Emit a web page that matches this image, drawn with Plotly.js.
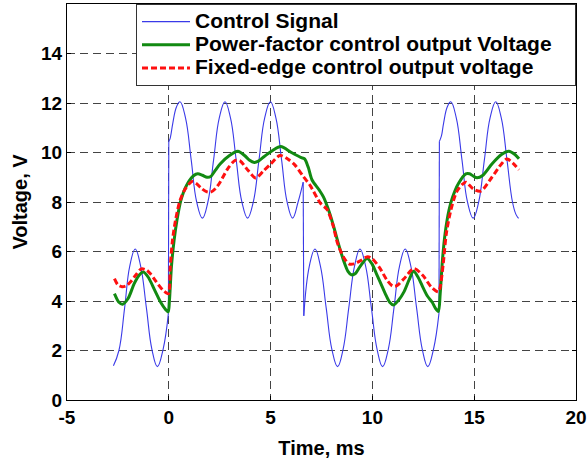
<!DOCTYPE html>
<html><head><meta charset="utf-8">
<script src="https://cdn.plot.ly/plotly-3.0.1.min.js"></script>
<style>html,body{margin:0;padding:0;background:#fff}</style>
</head><body>
<div id="chart" style="width:587px;height:459px"></div>
<script>
// Control signal (ms, V); null separates the smooth stretches between switching edges
const ctrlT = [-2.72,-2.45,-2.17,-1.92,-1.65,-1.38,-1.1,-0.83,-0.56,-0.28,-0.02,null,0.0,0.06,0.1,0.2,0.38,0.55,0.82,1.1,1.37,1.65,1.92,2.2,2.48,2.76,3.03,3.31,3.59,3.87,4.15,4.43,4.71,4.99,5.26,5.54,5.81,6.08,6.35,6.6,null,6.63,6.9,7.18,7.45,7.73,8.01,8.29,8.56,8.84,9.12,9.39,9.67,9.95,10.23,10.5,10.78,11.06,11.33,11.61,11.89,12.17,12.45,12.72,13.0,13.27,null,13.29,13.34,13.4,13.5,13.68,13.85,14.12,14.4,14.67,14.95,15.22,15.5,15.78,16.06,16.33,16.61,16.88,17.05,17.18];
const ctrlV = [1.38,2.0,3.72,5.4,6.1,5.4,3.72,2.05,1.35,2.05,3.5,null,10.45,10.55,10.7,11.2,11.85,12.05,11.4,9.7,8.0,7.35,8.0,9.7,11.4,12.05,11.4,9.7,8.0,7.35,8.0,9.7,11.4,12.05,11.4,9.7,8.0,7.35,8.0,8.8,null,3.4,5.4,6.1,5.4,3.72,2.05,1.35,2.05,3.72,5.4,6.1,5.4,3.72,2.05,1.35,2.05,3.72,5.4,6.1,5.4,3.72,2.05,1.35,2.05,3.5,null,10.45,10.55,10.7,11.2,11.85,12.05,11.4,9.7,8.0,7.35,8.0,9.7,11.4,12.05,11.4,9.7,8.0,7.5,7.34];
// Control signal switching edges
const edgeT = [-0.02,0.0,null,6.6,6.63,null,13.27,13.29];
const edgeV = [3.5,10.45,null,8.8,3.4,null,3.5,10.45];
// Power-factor control output voltage
const pfT = [-2.67,-2.45,-2.27,-2.0,-1.7,-1.45,-1.25,-1.0,-0.7,-0.4,-0.15,-0.03,0.03,0.13,0.26,0.4,0.59,0.87,1.23,1.42,1.65,1.88,2.06,2.3,2.52,2.98,3.39,3.72,3.95,4.2,4.4,4.64,5.1,5.5,6.02,6.48,6.67,6.85,7.03,7.4,7.6,7.88,8.1,8.3,8.6,8.8,8.97,9.15,9.4,9.74,9.98,10.2,10.41,10.63,10.85,11.04,11.3,11.55,11.8,12.02,12.25,12.47,12.7,12.93,13.1,13.24,13.33,13.44,13.57,13.76,13.94,14.22,14.59,14.77,14.95,15.14,15.41,15.87,16.34,16.7,17.0,17.2];
const pfV = [4.3,3.95,3.87,4.1,4.7,5.05,5.17,4.95,4.45,3.95,3.65,3.56,4.0,5.4,6.45,7.26,8.06,8.67,9.07,9.14,9.08,9.0,9.03,9.3,9.54,9.88,10.05,9.88,9.7,9.6,9.65,9.81,10.08,10.24,10.0,9.8,9.74,9.4,8.9,8.47,8.2,7.6,7.0,6.4,5.6,5.2,5.06,5.1,5.4,5.72,5.5,5.1,4.71,4.3,3.95,3.84,4.05,4.37,4.85,5.2,4.95,4.57,4.2,3.96,3.7,3.58,4.3,5.65,6.72,7.66,8.2,8.74,9.14,9.14,9.05,8.98,9.07,9.54,9.92,10.05,9.92,9.75];
// Fixed-edge control output voltage
const feT = [-2.67,-2.5,-2.3,-2.08,-1.85,-1.62,-1.35,-1.1,-0.9,-0.61,-0.3,-0.1,-0.01,0.07,0.18,0.33,0.55,0.81,1.14,1.35,1.6,1.85,2.06,2.3,2.52,2.89,3.26,3.5,3.9,4.27,4.64,5.01,5.46,5.84,6.21,6.57,6.94,7.45,7.77,8.05,8.3,8.6,8.85,9.1,9.4,9.76,10.0,10.35,10.72,11.0,11.2,11.55,12.04,12.47,12.89,13.24,13.33,13.48,13.63,13.85,14.13,14.4,14.59,14.95,15.32,15.87,16.34,16.61,16.9,17.2];
const feV = [4.9,4.65,4.58,4.62,4.8,5.05,5.3,5.25,5.1,4.77,4.45,4.32,4.3,5.38,6.45,7.26,8.06,8.53,8.83,8.75,8.55,8.42,8.4,8.55,8.8,9.34,9.68,9.66,9.27,8.97,9.25,9.54,9.88,9.74,9.48,9.07,8.67,7.95,7.7,7.1,6.3,5.75,5.5,5.5,5.62,5.79,5.7,5.35,4.84,4.6,4.62,4.9,5.31,5.04,4.57,4.37,4.57,5.51,6.72,7.66,8.4,8.7,8.8,8.53,8.44,9.0,9.54,9.74,9.57,9.3];
const seriesNames = ['Control Signal', 'Power-factor control output Voltage', 'Fixed-edge control output voltage'];
const xTicks = [-5,0,5,10,15,20];
const xTickText = ['-5','0','5','10','15','20'];
const yTicks = [0,2,4,6,8,10,12,14];

const FONT = 'Liberation Sans, Arial, sans-serif';
const BLUE = '#3a3ae8';
const big = (s, pad) => '<span style="font-size:21px">' + s + (pad || '') + '</span>';
const traces = [
  {x: ctrlT, y: ctrlV, name: big(seriesNames[0]), mode: 'lines', legendgroup: 'c',
   connectgaps: false,
   line: {color: BLUE, width: 1.1, shape: 'spline', smoothing: 1.2}},
  {x: edgeT, y: edgeV, name: seriesNames[0], mode: 'lines', legendgroup: 'c',
   showlegend: false, connectgaps: false,
   line: {color: BLUE, width: 1.1}},
  {x: pfT, y: pfV, name: big(seriesNames[1], '&nbsp;&nbsp;&nbsp;'), mode: 'lines',
   line: {color: '#128a12', width: 3, shape: 'spline', smoothing: 0.8}},
  {x: feT, y: feV, name: big(seriesNames[2]), mode: 'lines',
   line: {color: '#ff1010', width: 3, dash: '6px,3px', shape: 'spline', smoothing: 0.8}}
];
const axBase = {
  showline: true, linecolor: '#000', linewidth: 1, mirror: 'ticks',
  ticks: 'inside', ticklen: 4, tickcolor: '#000',
  showgrid: true, gridcolor: '#444', gridwidth: 1, griddash: '8px,5px',
  zeroline: false,
  tickfont: {family: FONT, size: 19, color: '#000', weight: 'bold'}
};
const layout = {
  width: 587, height: 459,
  margin: {l: 67, r: 11, t: 4, b: 59},
  paper_bgcolor: '#fff', plot_bgcolor: '#fff',
  showlegend: true,
  legend: {x: 1, xanchor: 'right', y: 1, yanchor: 'top',
    bgcolor: '#fff', bordercolor: '#333', borderwidth: 1,
    itemwidth: 48,
    font: {family: FONT, size: 15.5, color: '#000', weight: 'bold'},
    tracegroupgap: 0},
  xaxis: Object.assign({}, axBase, {range: [-5, 20], tickvals: xTicks, ticktext: xTickText,
    title: {text: 'Time, ms', font: {family: FONT, size: 20, color: '#000', weight: 'bold'}, standoff: 20}}),
  yaxis: Object.assign({}, axBase, {range: [0, 16], tickvals: yTicks,
    title: {text: 'Voltage, V', font: {family: FONT, size: 20, color: '#000', weight: 'bold'}, standoff: 8}})
};
Plotly.newPlot('chart', traces, layout, {displayModeBar: false, staticPlot: true});
</script>
</body></html>
